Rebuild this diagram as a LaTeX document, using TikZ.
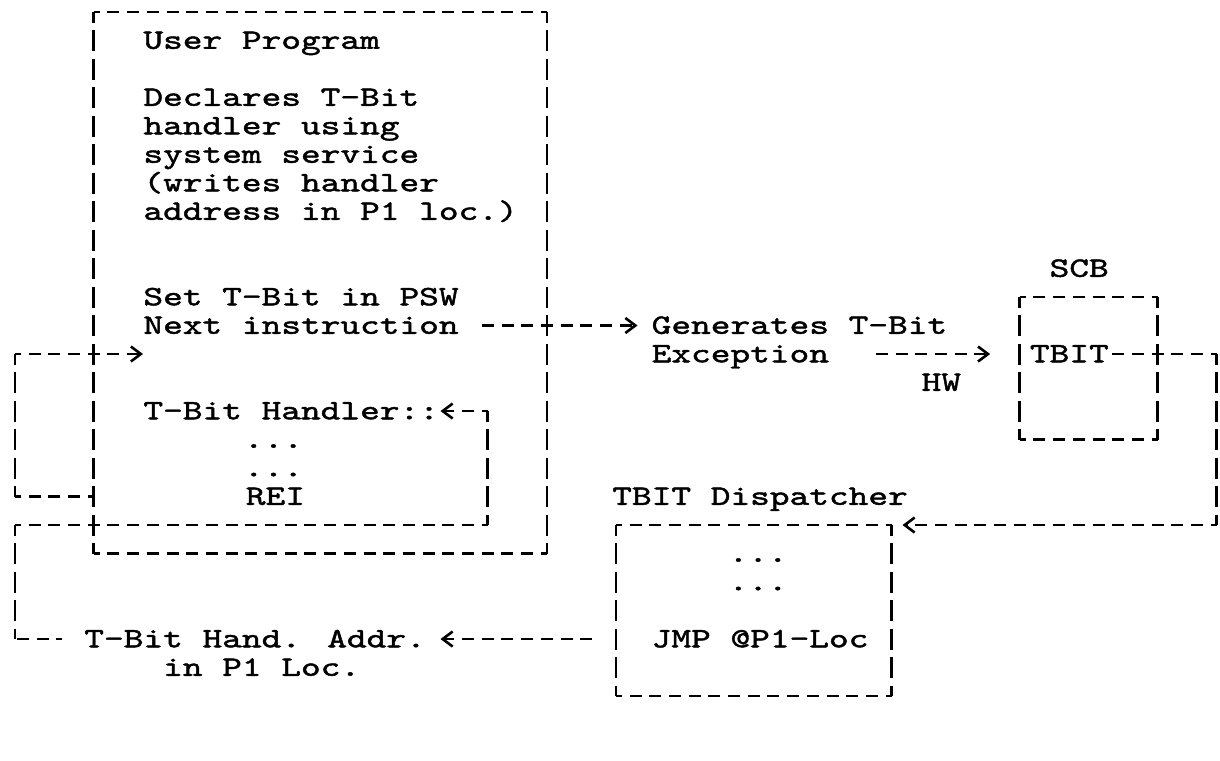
\documentclass[tikz,border=0pt]{standalone}
\usepackage{fontspec}
\usetikzlibrary{arrows.meta}
\newfontfamily\typer[Extension=.otf,FakeStretch=1.34,FakeBold=1.6]{lmmono10-regular}

\tikzset{
	txt/.style={anchor=base west,inner sep=0pt,font=\typer\fontsize{14}{17}\selectfont},
	hbar/.style={line width=1.3pt,dash pattern=on 6pt off 3.85pt,dash phase=3pt},
	vbar/.style={line width=1.3pt,dash pattern=on 10.5pt off 3.75pt,dash phase=5.25pt},
	tip/.style={-{Straight Barb[length=5pt,width=7.5pt,line width=1.3pt]}},
}
% box from the two corners <name> tl and <name> br
\newcommand\asciibox[1]{%
	\draw[hbar] (#1 tl) -- (#1 tl -| #1 br);
	\draw[hbar] (#1 tl |- #1 br) -- (#1 br);
	\draw[vbar] (#1 tl) -- (#1 tl |- #1 br);
	\draw[vbar] (#1 tl -| #1 br) -- (#1 br);}

\begin{document}
\begin{tikzpicture}[x=9.85pt,y=-14.25pt]
	\fill[white] (-0.761,-0.421) rectangle (61.168,26.246);
	\useasboundingbox (-0.761,-0.421) rectangle (61.168,26.246);
	% boxes
	\coordinate (usr tl) at (4,0);     \coordinate (usr br) at (27,19);
	\coordinate (scb tl) at (51,10);   \coordinate (scb br) at (58,15);
	\coordinate (dsp tl) at (30.5,18); \coordinate (dsp br) at (44.5,24);
	\asciibox{usr}
	\asciibox{scb}
	\asciibox{dsp}

	% user program
	\node[txt] (title) at (6.5,1.29) {User Program};
	\node[txt] (decl1) at (6.5,3.29) {Declares T-Bit};
	\node[txt] (decl2) at (6.5,4.29) {handler using};
	\node[txt] (decl3) at (6.5,5.29) {system service};
	\node[txt] (decl4) at (6.5,6.29) {(writes handler};
	\node[txt] (decl5) at (6.5,7.29) {address in P1 loc.)};
	\node[txt] (setbit) at (6.5,10.29) {Set T-Bit in PSW};
	\node[txt] (next) at (6.5,11.29) {Next instruction};
	\node[txt] (hdl) at (6.5,14.29) {T-Bit Handler::};
	\node[txt] (dots1) at (11.6,15.29) {...};
	\node[txt] (dots2) at (11.6,16.29) {...};
	\node[txt] (rei) at (11.7,17.29) {REI};

	% exception, SCB
	\node[txt] (gen) at (32.3,11.29) {Generates T-Bit};
	\node[txt] (exc) at (32.3,12.29) {Exception};
	\node[txt] (hw) at (46.0,13.29) {HW};
	\node[txt] (scb) at (52.5,9.29) {SCB};
	\node[txt] (tbit) at (51.5,12.29) {TBIT};

	% dispatcher
	\node[txt] (disp) at (30.3,17.29) {TBIT Dispatcher};
	\node[txt] (dots3) at (36.2,19.29) {...};
	\node[txt] (dots4) at (36.2,20.29) {...};
	\node[txt] (jmp) at (32.3,22.29) {JMP @P1-Loc};
	\node[txt] (addr1) at (3.5,22.29) {T-Bit Hand. Addr.};
	\node[txt] (addr2) at (7.5,23.29) {in P1 Loc.};

	% end points of the connectors
	\coordinate (rei left) at (4,17);
	\coordinate (loop a1) at (0,17);
	\coordinate (loop a2) at (0,12);
	\coordinate (back in) at (6.5,12);
	\coordinate (next out) at (23.7,11);
	\coordinate (gen in) at (31.6,11);
	\coordinate (exc out) at (43.7,12);
	\coordinate (scb in) at (49.5,12);
	\coordinate (tbit out) at (55.7,12);
	\coordinate (right a) at (61,12);
	\coordinate (right b) at (61,18);
	\coordinate (disp in) at (45.05,18);
	\coordinate (jmp out) at (29.3,22);
	\coordinate (addr in) at (21.6,22);
	\coordinate (addr out) at (2.4,22);
	\coordinate (loop b1) at (0,22);
	\coordinate (loop b2) at (0,18);
	\coordinate (loop b3) at (24,18);
	\coordinate (loop b4) at (24,14);
	\coordinate (hdl in) at (21.6,14);

	% return after REI
	\draw[hbar] (rei left) -- (loop a1);
	\draw[vbar] (loop a1) -- (loop a2);
	\draw[hbar,tip] (loop a2) -- (back in);
	% trap
	\draw[hbar,tip,dash phase=0pt] (next out) -- (gen in);
	\draw[hbar,tip,dash phase=0pt] (exc out) -- (scb in);
	\draw[hbar,dash phase=0pt] (tbit out) -- (right a);
	\draw[vbar] (right a) -- (right b);
	\draw[hbar,tip] (right b) -- (disp in);
	% handler address
	\draw[hbar,tip,dash phase=0pt] (jmp out) -- (addr in);
	\draw[hbar] (addr out) -- (loop b1);
	\draw[vbar] (loop b1) -- (loop b2);
	\draw[hbar] (loop b2) -- (loop b3);
	\draw[vbar] (loop b3) -- (loop b4);
	\draw[hbar,tip] (loop b4) -- (hdl in);
\end{tikzpicture}
\end{document}
